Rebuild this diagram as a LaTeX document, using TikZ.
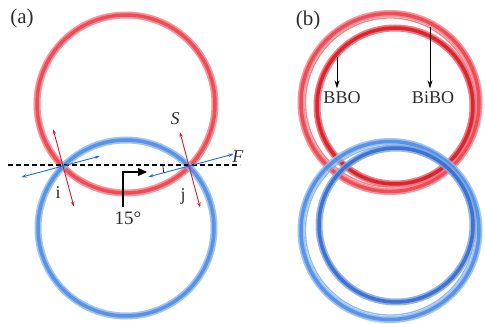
\documentclass[tikz,border=0pt]{standalone}
\usepackage{fontspec}
\setmainfont{Liberation Serif}
\usepackage{tikz}
\usetikzlibrary{positioning,arrows.meta,calc}
\definecolor{RingRed}{RGB}{238,76,86}
\definecolor{RingBlue}{RGB}{74,138,228}
\definecolor{DeepRed}{RGB}{222,36,46}
\definecolor{DeepBlue}{RGB}{46,106,206}
\definecolor{AxisRed}{RGB}{218,28,38}
\definecolor{AxisBlue}{RGB}{28,112,226}
\definecolor{LabelGray}{RGB}{45,45,45}

\begin{document}
\begin{tikzpicture}[
    x=1pt, y=1pt,
    every node/.style={font=\fontsize{18}{18}\selectfont, text=LabelGray},
    panel/.style={font=\fontsize{21}{21}\selectfont},
    ring/.style={line width=7pt, draw=#1!60},
    ringcore/.style={line width=3.5pt, draw=#1},
    thinring/.style={line width=1.3pt, draw=#1!70},
    saxis/.style={draw=AxisRed, line width=0.9pt, {Stealth[length=5pt,width=3.5pt]}-{Stealth[length=5pt,width=3.5pt]}},
    faxis/.style={draw=AxisBlue, line width=0.9pt, {Stealth[length=5pt,width=3.5pt]}-{Stealth[length=5pt,width=3.5pt]}},
    pointer/.style={draw=black, line width=0.9pt, -{Stealth[length=8pt,width=5pt]}},
]
\useasboundingbox (0,0) rectangle (485,324);

% panel (a)
\coordinate (redA) at (126,220);
\coordinate (blueA) at (126,96);
\draw[ring=RingRed] (redA) circle[radius=89];
\draw[ringcore=RingRed] (redA) circle[radius=89];
\begin{scope}[opacity=0.85]
\draw[ring=RingBlue] (blueA) circle[radius=88];
\draw[ringcore=RingBlue] (blueA) circle[radius=88];
\end{scope}

\coordinate (i) at (63,158);
\coordinate (j) at (189,158);
\coordinate (dashL) at (8,159);
\coordinate (dashR) at (240,159);
\draw[black, line width=1.1pt, dash pattern=on 5pt off 3pt] (dashL) -- (dashR);

% slow and fast axes
\coordinate (iS) at ($(i)+(105:38)$);
\coordinate (iSb) at ($(i)+(-75:42)$);
\coordinate (iF) at ($(i)+(15:38)$);
\coordinate (iFb) at ($(i)+(195:43)$);
\coordinate (jS) at ($(j)+(105:35)$);
\coordinate (jSb) at ($(j)+(-75:43)$);
\coordinate (jF) at ($(j)+(15:46)$);
\coordinate (jFb) at ($(j)+(195:42)$);
\draw[saxis] (iSb) -- (iS);
\draw[faxis] (iFb) -- (iF);
\draw[saxis] (jSb) -- (jS);
\draw[faxis] (jFb) -- (jF);
\draw[black, line width=0.7pt] ($(j)+(180:26)$) arc[start angle=180, end angle=196, radius=26];

\node[panel] (lblA) at (22,306) {(a)};
\node (lblS) at (175,205) {\textit{S}};
\node (lblF) at (238,167) {\textit{F}};
\node (lblI) at (58,131) {i};
\node (lblJ) at (183,128) {j};
\node[font=\fontsize{19}{19}\selectfont] (deg) at (128,106) {15°};
\coordinate (turnEnd) at (147,152);
\draw[draw=black, line width=1.1pt, -{Triangle[length=9pt,width=8pt]}] ($(deg.north)+(-5,1)$) |- (turnEnd);

% panel (b)
\coordinate (redB) at (390,221.5);
\coordinate (redBin) at (395,218);
\coordinate (blueB) at (390,93.5);
\coordinate (blueBin) at (396,99);
\draw[ring=RingRed] (redB) circle[radius=89];
\draw[ringcore=RingRed] (redB) circle[radius=89];
\draw[thinring=RingRed] (redB) circle[radius=84.5];
\draw[ring=DeepRed] (redBin) circle[radius=78];
\draw[ringcore=DeepRed] (redBin) circle[radius=78];
\begin{scope}[opacity=0.85]
\draw[ring=RingBlue] (blueB) circle[radius=89];
\draw[ringcore=RingBlue] (blueB) circle[radius=89];
\draw[thinring=RingBlue] (blueB) circle[radius=84.5];
\draw[ring=DeepBlue] (blueBin) circle[radius=77];
\draw[ringcore=DeepBlue] (blueBin) circle[radius=77];
\end{scope}

\node[panel] (lblB) at (308,304) {(b)};
\node (bbo) at (342,226) {BBO};
\node (bibo) at (433,226) {BiBO};
\coordinate (bboTop) at (337,267);
\coordinate (biboTop) at (430,297);
\draw[pointer] (bboTop) -- (bboTop |- bbo.north);
\draw[pointer] (biboTop) -- (biboTop |- bibo.north);
\end{tikzpicture}
\end{document}
